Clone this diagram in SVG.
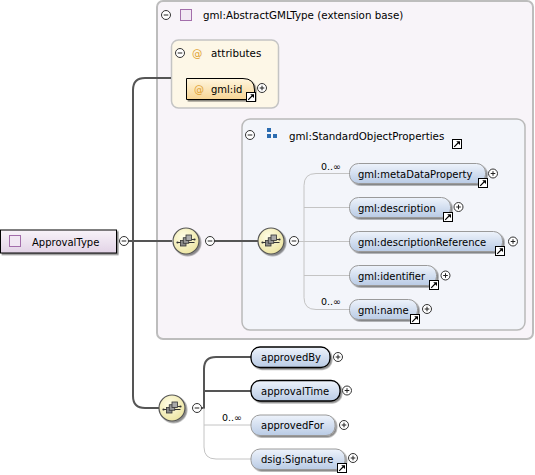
<svg xmlns="http://www.w3.org/2000/svg" width="535" height="475" viewBox="0 0 535 475">
<style>
text{font-family:"DejaVu Sans","Noto Sans",sans-serif;font-size:10px;fill:#000}
.hdr{font-size:10.3px}
.occ{font-size:9.5px}
.at{fill:#e0a030}
.el{fill:url(#gElem);stroke:#9a9a9a;stroke-width:1}
.req{stroke:#000;stroke-width:1.3}
.pm{fill:#fff;stroke:#333;stroke-width:1}
.pmline{stroke:#222;stroke-width:1;fill:none}
.dark{fill:none;stroke:#555;stroke-width:2}
.light{fill:none;stroke:#c4c4c4;stroke-width:1}
.sep{stroke-width:2;fill:none}
</style>
<defs>
<linearGradient id="gElem" x1="0" y1="0" x2="0" y2="1"><stop offset="0" stop-color="#eef3fb"/><stop offset="1" stop-color="#b9cbe5"/></linearGradient>
<linearGradient id="gAttr" x1="0" y1="0" x2="0" y2="1"><stop offset="0" stop-color="#fff6df"/><stop offset="1" stop-color="#f7d594"/></linearGradient>
<linearGradient id="gType" x1="0" y1="0" x2="0" y2="1"><stop offset="0" stop-color="#f8f3f9"/><stop offset="1" stop-color="#e2d3e6"/></linearGradient>
<radialGradient id="gSeq" cx="0.4" cy="0.35" r="0.7"><stop offset="0" stop-color="#fffde6"/><stop offset="1" stop-color="#ece4a0"/></radialGradient>
<linearGradient id="gSep" x1="0" y1="0" x2="1" y2="0"><stop offset="0" stop-color="#d8d8d8" stop-opacity="0.3"/><stop offset="0.3" stop-color="#d0d0d0"/><stop offset="1" stop-color="#e0e0e0" stop-opacity="0"/></linearGradient>
<filter id="sh" x="-20%" y="-20%" width="150%" height="160%"><feDropShadow dx="1.6" dy="1.6" stdDeviation="0.7" flood-color="#000" flood-opacity="0.45"/></filter>
<symbol id="minus" viewBox="-5.5 -5.5 11 11" overflow="visible"><circle class="pm" r="4.5"/><path class="pmline" d="M-2.3,0H2.3"/></symbol>
<symbol id="plus" viewBox="-5.5 -5.5 11 11" overflow="visible"><circle class="pm" r="4.5"/><path class="pmline" d="M-2.3,0H2.3M0,-2.3V2.3"/></symbol>
<symbol id="link" viewBox="0 0 10 10" overflow="visible"><rect x="0.5" y="0.5" width="9" height="9" fill="#fff" stroke="#000" stroke-width="1"/><polygon points="2.6,8.2 1.8,7.4 5.6,3.6 4.2,2.2 8,2.2 8,6 6.4,4.4" fill="#000"/></symbol>
<symbol id="seq" viewBox="-14 -14 28 28" overflow="visible">
<circle r="13" fill="url(#gSeq)" stroke="#555" stroke-width="1.2" filter="url(#sh)"/>
<path d="M-8.5,1.5H8.5" stroke="#333" stroke-width="1"/>
<circle cx="-8.5" cy="1.5" r="1.1" fill="#333"/><circle cx="8.5" cy="-1.5" r="1.1" fill="#333"/>
<path d="M5.5,-1.5H8.5" stroke="#333" stroke-width="1"/>
<rect x="-5.5" y="-0.5" width="5.5" height="5.5" fill="#8a8a8a" stroke="#333" stroke-width="0.8"/>
<rect x="-2.75" y="-3.25" width="5.5" height="5.5" fill="#9a9a9a" stroke="#333" stroke-width="0.8"/>
<rect x="0" y="-6" width="5.5" height="5.5" fill="#aaa" stroke="#333" stroke-width="0.8"/>
</symbol>
</defs>

<g id="AbstractGMLType">
<rect x="157" y="1" width="376" height="338" rx="6" fill="#f8f4f9" stroke="#bdbdbd" stroke-width="2"/>
<use href="#minus" x="160.5" y="9.5" width="11" height="11"/>
<rect x="180.5" y="9.5" width="11" height="11" fill="#f1e8f3" stroke="#a36eab" stroke-width="1"/>
<text class="hdr" x="203" y="19">gml:AbstractGMLType (extension base)</text>
<path class="sep" d="M160,28.5H445" stroke="url(#gSep)"/>
</g>

<g id="attributes">
<rect x="171.5" y="40" width="107" height="68" rx="7" fill="#fdf7e7" stroke="#c4c4c4" stroke-width="1.5"/>
<use href="#minus" x="174.5" y="47.5" width="11" height="11"/>
<text class="hdr at" x="192" y="57">@</text>
<text class="hdr" x="211" y="57">attributes</text>
<path class="sep" d="M175,67.5H262" stroke="url(#gSep)"/>
</g>

<g id="StandardObjectProperties">
<rect x="242" y="119" width="283" height="211" rx="8" fill="#f3f5fa" stroke="#b9b9b9" stroke-width="1.5"/>
<use href="#minus" x="244.5" y="129.5" width="11" height="11"/>
<rect x="267" y="128" width="4" height="4" fill="#2b6cb0"/>
<rect x="267" y="134" width="4" height="4" fill="#2b6cb0"/>
<rect x="273" y="134" width="4" height="4" fill="#2b6cb0"/>
<text class="hdr" x="289" y="140">gml:StandardObjectProperties</text>
<use href="#link" x="452" y="139" width="10" height="10"/>
<path class="sep" d="M245,152.5H520" stroke="url(#gSep)"/>
</g>

<g id="connectors">
<path class="dark" d="M128,241H172"/>
<path class="dark" d="M133,241V90Q133,78 145,78H171"/>
<path class="dark" d="M133,241V396Q133,408 145,408H159"/>
<path class="dark" d="M214,241H258"/>
<path class="light" d="M299,241.5H349"/>
<path class="light" d="M349,173.5H316Q304,173.5 304,185.5V297.5Q304,309.5 316,309.5H349"/>
<path class="light" d="M304,207.5H349M304,275.5H349"/>
<path class="dark" d="M201,408H204V369Q204,357 216,357H251"/>
<path class="dark" d="M204,391H251"/>
<path class="light" d="M204,408V447Q204,459 216,459H251"/>
<path class="light" d="M204,425H251"/>
</g>

<g id="gml-id">
<path d="M186.5,78.5H243Q254.5,78.5 254.5,90V99.5H186.5Z" fill="url(#gAttr)" stroke="#000" stroke-width="1" filter="url(#sh)"/>
<text class="at" x="194" y="93">@</text>
<text x="211" y="93">gml:id</text>
<use href="#link" x="246" y="92" width="10" height="10"/>
<use href="#plus" x="256.5" y="82.5" width="11" height="11"/>
</g>

<g id="ApprovalType">
<rect x="0.5" y="230" width="116" height="23" fill="url(#gType)" stroke="#000" stroke-width="1" filter="url(#sh)"/>
<rect x="9.5" y="235.5" width="11" height="11" fill="#f1e8f3" stroke="#a36eab" stroke-width="1"/>
<text x="32" y="246">ApprovalType</text>
<use href="#minus" x="118.5" y="235.5" width="11" height="11"/>
</g>

<g id="sequence1">
<use href="#seq" x="172" y="227" width="28" height="28"/>
<use href="#minus" x="204.5" y="235.5" width="11" height="11"/>
</g>

<g id="sequence2">
<use href="#seq" x="257" y="227" width="28" height="28"/>
<use href="#minus" x="288.5" y="235.5" width="11" height="11"/>
</g>

<g id="metaDataProperty">
<rect class="el" x="349.5" y="163.5" width="136" height="20" rx="9" filter="url(#sh)"/>
<text x="358" y="177.5">gml:metaDataProperty</text>
<text class="occ" x="321" y="170">0..∞</text>
<use href="#link" x="478" y="178" width="10" height="10"/>
<use href="#plus" x="487.5" y="168" width="11" height="11"/>
</g>
<g id="description">
<rect class="el" x="349.5" y="197.5" width="101" height="20" rx="9" filter="url(#sh)"/>
<text x="358" y="211.5">gml:description</text>
<use href="#link" x="443" y="212" width="10" height="10"/>
<use href="#plus" x="453" y="201.5" width="11" height="11"/>
</g>
<g id="descriptionReference">
<rect class="el" x="349.5" y="231.5" width="153" height="20" rx="9" filter="url(#sh)"/>
<text x="358" y="245.5">gml:descriptionReference</text>
<use href="#link" x="495" y="246" width="10" height="10"/>
<use href="#plus" x="507.5" y="236" width="11" height="11"/>
</g>
<g id="identifier">
<rect class="el" x="349.5" y="265.5" width="87" height="20" rx="9" filter="url(#sh)"/>
<text x="358" y="279.5">gml:identifier</text>
<use href="#link" x="429" y="280" width="10" height="10"/>
<use href="#plus" x="440" y="270" width="11" height="11"/>
</g>
<g id="name">
<rect class="el" x="349.5" y="299.5" width="68" height="20" rx="9" filter="url(#sh)"/>
<text x="358" y="313.5">gml:name</text>
<text class="occ" x="321" y="305">0..∞</text>
<use href="#link" x="410" y="314" width="10" height="10"/>
<use href="#plus" x="421.5" y="303.5" width="11" height="11"/>
</g>

<g id="sequence3">
<use href="#seq" x="158" y="394" width="28" height="28"/>
<use href="#minus" x="191.5" y="402.5" width="11" height="11"/>
</g>

<g id="approvedBy">
<rect class="el req" x="251" y="347" width="79" height="20.5" rx="9" filter="url(#sh)"/>
<text x="261" y="361">approvedBy</text>
<use href="#plus" x="332.5" y="351.5" width="11" height="11"/>
</g>
<g id="approvalTime">
<rect class="el req" x="251" y="380.5" width="89" height="20.5" rx="9" filter="url(#sh)"/>
<text x="261" y="394.5">approvalTime</text>
<use href="#plus" x="341.5" y="385" width="11" height="11"/>
</g>
<g id="approvedFor">
<rect class="el" x="251" y="415" width="84" height="20.5" rx="9" filter="url(#sh)"/>
<text x="261" y="429">approvedFor</text>
<text class="occ" x="222" y="421">0..∞</text>
<use href="#plus" x="338.5" y="419.5" width="11" height="11"/>
</g>
<g id="dsig-Signature">
<rect class="el" x="251" y="449" width="94" height="20.5" rx="9" filter="url(#sh)"/>
<text x="261" y="463">dsig:Signature</text>
<use href="#link" x="337" y="463" width="10" height="10"/>
<use href="#plus" x="347.5" y="452.5" width="11" height="11"/>
</g>
</svg>
